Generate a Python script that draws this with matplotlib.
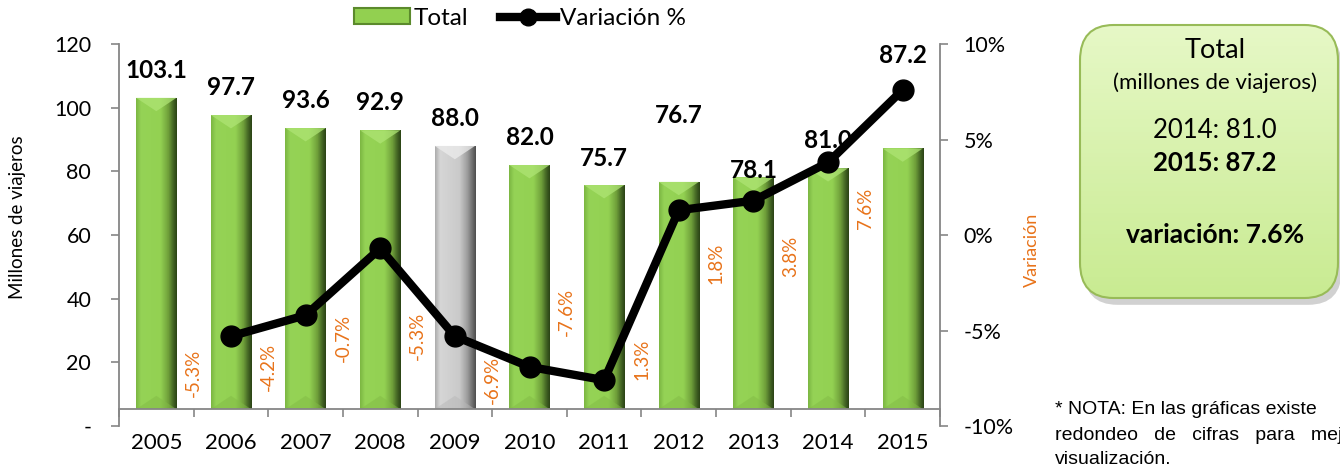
import numpy as np
import matplotlib
matplotlib.use("Agg")
import matplotlib.pyplot as plt
from matplotlib.colors import LinearSegmentedColormap
from matplotlib.patches import FancyBboxPatch, Rectangle, Polygon
from matplotlib.lines import Line2D

plt.rcParams['font.family'] = ['Lato', 'DejaVu Sans']

years = ["2005", "2006", "2007", "2008", "2009", "2010", "2011", "2012", "2013", "2014", "2015"]
totals = [103.1, 97.7, 93.6, 92.9, 88.0, 82.0, 75.7, 76.7, 78.1, 81.0, 87.2]
var_years = years[1:]
variacion = [-5.3, -4.2, -0.7, -5.3, -6.9, -7.6, 1.3, 1.8, 3.8, 7.6]
highlight = "2009"

left_ticks = [0, 20, 40, 60, 80, 100, 120]
left_ticklabels = ["-", "20", "40", "60", "80", "100", "120"]
right_ticks = [-10, -5, 0, 5, 10]
right_ticklabels = ["-10%", "-5%", "0%", "5%", "10%"]

# label heights as they sit in the picture
total_label_y = [111.6, 106.3, 102.2, 101.6, 96.6, 90.6, 84.0, 97.5, 80.3, 89.7, 116.3]
var_label_y = [-7.2, -6.9, -5.4, -5.3, -7.6, -4.05, -6.5, -1.5, -1.1, 1.4]

GRAY = "#868686"
ORANGE = "#e8731a"

green = LinearSegmentedColormap.from_list("g", [(0, "#7cb743"), (0.12, "#95d356"), (0.6, "#93d152"),
                                               (0.8, "#6f9f3a"), (0.93, "#3f5f22"), (1, "#2c4416")])
grey = LinearSegmentedColormap.from_list("s", [(0, "#aeaeae"), (0.12, "#d6d6d6"), (0.6, "#cacaca"),
                                              (0.8, "#9c9c9c"), (0.93, "#6a6a6a"), (1, "#4f4f4f")])
grad = np.linspace(0, 1, 64).reshape(1, -1)

fig = plt.figure(figsize=(13.4, 4.66), dpi=100)
ax = fig.add_axes([0.0888, 0.0858, 0.6127, 0.8197])
ax2 = ax.twinx()

x = np.arange(len(years))
base = 5.3
w = 0.54
bars = ax.bar(x, np.array(totals) - base, bottom=base, width=w, color="none", zorder=2)
for yr, b in zip(years, bars):
    x0, y0 = b.get_x(), b.get_y()
    x1, y1 = x0 + b.get_width(), y0 + b.get_height()
    xc = (x0 + x1) / 2
    gray_bar = yr == highlight
    im = ax.imshow(grad, cmap=grey if gray_bar else green, extent=(x0, x1, y0, y1),
                   aspect="auto", interpolation="bilinear", zorder=2)
    im.set_clip_path(b)
    d = 4.2
    ax.add_patch(Polygon([(x0, y1), (x1, y1), (xc, y1 - d)], closed=True, zorder=2.1,
                         facecolor="#ededed" if gray_bar else "#aee474", edgecolor="none", alpha=0.75))
    ax.add_patch(Polygon([(x0, y0), (x1, y0), (xc, y0 + d)], closed=True, zorder=2.1,
                         facecolor="#b8b8b8" if gray_bar else "#82bb46", edgecolor="none", alpha=0.5))

for xi, v, ly in zip(x, totals, total_label_y):
    ax.text(xi, ly, f"{v:.1f}", ha="center", va="center", fontsize=17.5, fontweight="bold", zorder=4)

ax.set_xlim(-0.5, len(years) - 0.5)
ax.set_ylim(0, 120)
ax.set_xticks(x, years)
ax.set_xticks(np.arange(len(years) + 1) - 0.5, minor=True)
ax.tick_params(axis="x", which="major", length=0, pad=17, labelsize=16)
ax.tick_params(axis="x", which="minor", length=6, color=GRAY, width=1.2)
ax.set_yticks(left_ticks, left_ticklabels)
ax.tick_params(axis="y", length=6, color=GRAY, width=1.2, pad=14, labelsize=15.5)
ax.spines["bottom"].set_position(("data", base))
for s in ["top", "right"]:
    ax.spines[s].set_visible(False)
for s in ["left", "bottom"]:
    ax.spines[s].set_color(GRAY)
    ax.spines[s].set_linewidth(1.3)

# variation line
xv = [years.index(y) for y in var_years]
ax2.plot(xv, variacion, color="black", lw=6, marker="o", ms=15, zorder=5, solid_joinstyle="round")
for xi, v, ly in zip(xv, variacion, var_label_y):
    ax2.text(xi - 0.5, ly, f"{v:.1f}%", rotation=90, ha="center", va="center",
             fontsize=13.5, color=ORANGE, zorder=3)
ax2.set_ylim(-10, 10)
ax2.set_yticks(right_ticks, right_ticklabels)
ax2.tick_params(axis="y", length=6, color=GRAY, width=1.2, pad=11, labelsize=15.5)
for s in ["top", "left", "bottom"]:
    ax2.spines[s].set_visible(False)
ax2.spines["right"].set_color(GRAY)
ax2.spines["right"].set_linewidth(1.3)

fig.text(18 / 1340, 0.535, "Millones de viajeros", rotation=90, ha="center", va="center", fontsize=13.5)
fig.text(1032 / 1340, 0.4635, "Variación", rotation=90, ha="center", va="center", fontsize=13, color=ORANGE)

handles = [Rectangle((0, 0), 1, 1, facecolor="#92d050", edgecolor="#5b8a2c", lw=1.5),
           Line2D([0], [0], color="black", lw=6, marker="o", ms=12)]
fig.legend(handles, ["Total", "Variación %"], loc="center", bbox_to_anchor=(0.388, 0.961), ncol=2,
           frameon=False, fontsize=17.5, handlelength=2.3, handletextpad=0.15, columnspacing=1.3,
           handleheight=0.6)

# summary box
bx = fig.add_axes([1080 / 1340, 1 - 298 / 466, 258 / 1340, 273 / 466])
bx.set_xlim(0, 1)
bx.set_ylim(0, 1)
bx.axis("off")
shadow = FancyBboxPatch((0.015, -0.025), 1, 1, boxstyle="round,pad=0,rounding_size=0.13",
                        facecolor="#9a9a9a", edgecolor="none", alpha=0.45, clip_on=False, zorder=0)
bx.add_patch(shadow)
box = FancyBboxPatch((0, 0), 1, 1, boxstyle="round,pad=0,rounding_size=0.13",
                     facecolor="none", edgecolor="#98bb58", lw=1.5, clip_on=False, zorder=3)
bx.add_patch(box)
vgrad = np.linspace(0, 1, 64).reshape(-1, 1)
box_cmap = LinearSegmentedColormap.from_list("b", ["#c9eb92", "#e6f8c6"])
bim = bx.imshow(vgrad, cmap=box_cmap, extent=(0, 1, 1, 0), aspect="auto", zorder=1)
bim.set_clip_path(box)

cx = 1215 / 1340
fig.text(cx, 1 - 50 / 466, "Total", ha="center", va="center", fontsize=19.5)
fig.text(cx, 1 - 83 / 466, "(millones de viajeros)", ha="center", va="center", fontsize=16)
fig.text(cx, 1 - 130 / 466, "2014: 81.0", ha="center", va="center", fontsize=18.5)
fig.text(cx, 1 - 163 / 466, "2015: 87.2", ha="center", va="center", fontsize=18.5, fontweight="bold")
fig.text(cx, 1 - 235 / 466, "variación: 7.6%", ha="center", va="center", fontsize=19, fontweight="bold")

nota = ["* NOTA: En las gráficas existe",
        "redondeo   de   cifras   para   mejor",
        "visualización."]
for i, line in enumerate(nota):
    fig.text(1055 / 1340, 1 - (410 + 25 * i) / 466, line, ha="left", va="center",
             fontsize=14, family=["Liberation Sans", "DejaVu Sans"])

fig.savefig("out.png", dpi=100)
